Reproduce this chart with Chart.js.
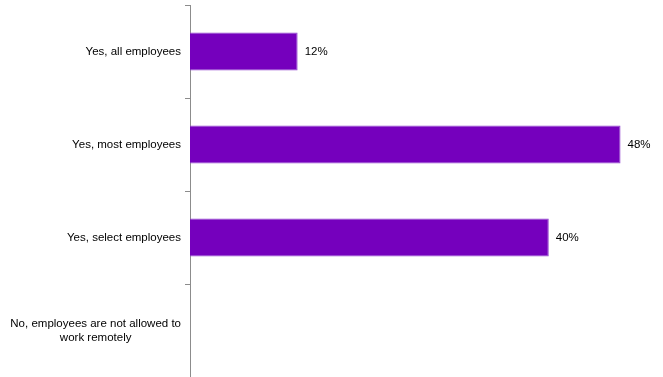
<!DOCTYPE html>
<html>
<head>
<meta charset="utf-8">
<script src="https://cdn.jsdelivr.net/npm/chart.js@4.4.1/dist/chart.umd.min.js"></script>
<style>
  html, body { margin: 0; padding: 0; background: #fff; }
  #wrap { width: 663px; height: 377px; position: relative; }
</style>
</head>
<body>
<div id="wrap"><canvas id="chart"></canvas></div>
<script>
  // Remote-work policy answers, share of respondents (%)
  var categories = [
    "Yes, all employees",
    "Yes, most employees",
    "Yes, select employees",
    ["No, employees are not allowed to", "work remotely"]
  ];
  var shares = [12, 48, 40, 0];

  var FONT = "11.5px 'Liberation Sans', Arial, sans-serif";
  var AXIS_X = 190;

  // Category names: right-aligned block, lines centred within it
  var categoryLabels = {
    id: "categoryLabels",
    afterDraw: function (chart) {
      var ctx = chart.ctx, y = chart.scales.y;
      ctx.save();
      ctx.font = FONT;
      ctx.fillStyle = "#000";
      ctx.textBaseline = "middle";
      ctx.textAlign = "center";
      var right = y.right - 9, lh = 14;
      for (var i = 0; i < categories.length; i++) {
        var lines = [].concat(categories[i]);
        var w = 0;
        for (var j = 0; j < lines.length; j++) w = Math.max(w, ctx.measureText(lines[j]).width);
        var cy = y.getPixelForTick(i) + 0.5 - (lines.length - 1) * lh / 2;
        for (j = 0; j < lines.length; j++) ctx.fillText(lines[j], right - w / 2, cy + j * lh);
      }
      ctx.restore();
    }
  };

  // Percentage next to the end of each bar (zero rows stay blank)
  var valueLabels = {
    id: "valueLabels",
    afterDatasetsDraw: function (chart) {
      var ctx = chart.ctx, bars = chart.getDatasetMeta(0).data;
      ctx.save();
      ctx.font = FONT;
      ctx.fillStyle = "#000";
      ctx.textBaseline = "middle";
      ctx.textAlign = "left";
      for (var i = 0; i < bars.length; i++) {
        if (!shares[i]) continue;
        ctx.fillText(shares[i] + "%", bars[i].x + 7, bars[i].y + 0.5);
      }
      ctx.restore();
    }
  };

  new Chart(document.getElementById("chart"), {
    type: "bar",
    data: {
      labels: categories,
      datasets: [{
        data: shares,
        backgroundColor: "#7500BD",
        borderColor: "#9245D0",
        borderWidth: 1,
        barPercentage: 0.41,
        categoryPercentage: 1
      }]
    },
    options: {
      indexAxis: "y",
      responsive: true,
      maintainAspectRatio: false,
      animation: false,
      layout: { padding: { top: 5, right: 3, bottom: 0, left: 0 } },
      scales: {
        x: { display: false, min: 0, max: 52.4 },
        y: {
          afterFit: function (scale) { scale.width = AXIS_X; },
          ticks: { display: false },
          grid: {
            offset: true,
            drawOnChartArea: false,
            tickLength: 5,
            color: "#8c8c8c",
            lineWidth: 1
          },
          border: { color: "#8c8c8c", width: 1 }
        }
      },
      plugins: { legend: { display: false }, tooltip: { enabled: false } }
    },
    plugins: [categoryLabels, valueLabels]
  });
</script>
</body>
</html>
